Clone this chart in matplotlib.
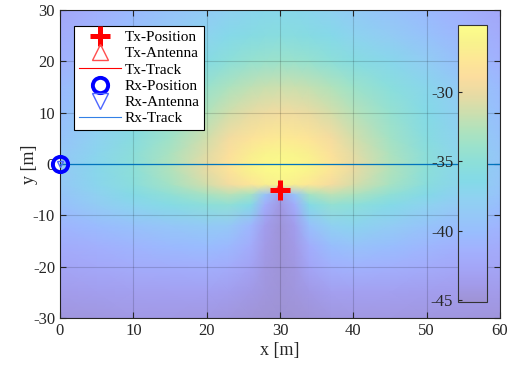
import numpy as np
import matplotlib.pyplot as plt
from matplotlib.colors import LinearSegmentedColormap
from matplotlib.lines import Line2D

# grid nodes of the power map [m]
x_nodes = [0, 5, 10, 15, 20, 23, 26, 28, 30, 32, 34, 37, 40, 45, 50, 55, 60]
y_nodes = [30, 25, 20, 15, 10, 5, 2, -1, -4, -6, -8, -12, -16, -20, -25, -30]

# received power [dB], one row per y node
power = [
    [-42.5, -41.5, -40.5, -39.5, -38.5, -37.8, -37.2, -36.9, -36.8, -36.9, -37.2, -37.8, -38.5, -39.5, -40.5, -41.5, -42.5],
    [-42.0, -41.0, -39.8, -38.6, -37.4, -36.6, -36.0, -35.7, -35.6, -35.7, -36.0, -36.6, -37.4, -38.4, -39.6, -40.9, -42.0],
    [-41.5, -40.3, -38.8, -37.3, -36.0, -35.0, -34.3, -34.0, -33.9, -34.0, -34.3, -35.0, -35.8, -36.8, -38.3, -40.0, -41.4],
    [-40.5, -39.0, -37.5, -35.8, -34.0, -32.9, -32.1, -31.7, -31.5, -31.6, -31.9, -32.7, -33.8, -35.4, -37.0, -38.8, -40.4],
    [-40.0, -38.3, -36.4, -34.5, -32.6, -31.3, -30.3, -29.8, -29.6, -29.7, -30.1, -31.1, -32.4, -34.3, -36.4, -38.2, -40.0],
    [-39.5, -37.6, -35.7, -33.6, -31.3, -29.5, -28.2, -27.6, -27.4, -27.5, -28.0, -29.3, -31.1, -33.5, -35.8, -37.8, -39.5],
    [-39.0, -37.2, -35.2, -33.0, -30.6, -28.6, -27.0, -26.3, -26.0, -26.2, -26.8, -28.4, -30.4, -32.9, -35.3, -37.4, -39.2],
    [-38.8, -36.9, -35.0, -32.7, -30.2, -28.1, -26.3, -25.6, -25.3, -25.5, -26.1, -27.8, -30.0, -32.6, -35.1, -37.2, -39.0],
    [-38.9, -37.1, -35.4, -33.4, -31.2, -29.5, -27.9, -26.9, -26.4, -26.9, -27.7, -29.3, -31.0, -33.2, -35.5, -37.3, -39.1],
    [-39.3, -37.7, -36.3, -34.8, -33.2, -32.4, -33.4, -39.5, -43.5, -39.5, -33.4, -32.2, -32.9, -34.8, -36.5, -38.0, -39.5],
    [-39.8, -38.4, -37.2, -36.2, -35.2, -34.8, -36.3, -41.8, -44.3, -41.8, -36.3, -34.6, -35.0, -36.4, -37.5, -38.8, -40.0],
    [-41.0, -40.3, -39.6, -39.0, -38.5, -38.8, -40.8, -43.6, -44.8, -43.6, -39.8, -37.8, -37.3, -38.3, -39.4, -40.3, -41.0],
    [-42.0, -41.5, -41.0, -40.5, -40.2, -40.6, -42.0, -44.0, -44.8, -44.0, -41.8, -40.0, -39.5, -40.0, -40.8, -41.5, -42.0],
    [-42.8, -42.4, -42.0, -41.8, -41.6, -41.9, -42.9, -44.3, -44.8, -44.3, -42.7, -41.5, -41.2, -41.5, -42.0, -42.5, -42.8],
    [-43.8, -43.5, -43.3, -43.2, -43.2, -43.5, -44.1, -44.6, -44.9, -44.6, -44.1, -43.4, -43.2, -43.3, -43.5, -43.7, -43.9],
    [-44.6, -44.4, -44.2, -44.2, -44.3, -44.6, -44.9, -45.0, -45.1, -45.0, -44.9, -44.5, -44.3, -44.3, -44.4, -44.6, -44.7],
]
c_lim = [-45.15, -25.15]

tx_pos = [30, -5]
rx_pos = [0, 0]
rx_track_x = [0, 60]
rx_track_y = [0, 0]

# parula (older MATLAB version), mixed 50/50 with white (map is half transparent)
parula = [
    (0.2422, 0.1504, 0.6603), (0.2706, 0.2147, 0.8364), (0.2813, 0.3006, 0.9414),
    (0.2699, 0.3892, 0.9906), (0.1963, 0.4847, 0.9892), (0.1687, 0.5703, 0.9359),
    (0.1248, 0.6459, 0.8883), (0.0297, 0.7082, 0.8163), (0.0964, 0.7461, 0.7091),
    (0.2161, 0.7702, 0.5959), (0.3909, 0.7705, 0.4733), (0.6174, 0.7447, 0.3597),
    (0.8203, 0.7170, 0.2829), (0.9728, 0.7307, 0.2394), (0.9855, 0.8096, 0.1781),
    (0.9476, 0.9022, 0.1040), (0.9769, 0.9839, 0.0805),
]
pale = [tuple(0.5 * c + 0.5 for c in rgb) for rgb in parula]
cmap = LinearSegmentedColormap.from_list('parula_pale', pale, N=256)

plt.rcParams['font.family'] = ['Liberation Serif', 'DejaVu Serif']
plt.rcParams['font.size'] = 12
plt.rcParams['axes.unicode_minus'] = False
dark = (0.15, 0.15, 0.15)

fig = plt.figure(figsize=(5.07, 3.70), dpi=100)
ax = fig.add_axes([0.1183, 0.1405, 0.8679, 0.8325])

X, Y = np.meshgrid(x_nodes, y_nodes)
mesh = ax.pcolormesh(X, Y, np.array(power), cmap=cmap, shading='gouraud',
                     vmin=c_lim[0], vmax=c_lim[1], zorder=0)

ax.plot(rx_track_x, rx_track_y, color=(0.0, 0.45, 0.74), lw=0.9, zorder=3)
ax.plot([tx_pos[0]], [tx_pos[1]], color='red', lw=0.9, zorder=3)
ax.plot(tx_pos[0], tx_pos[1] + 0.6, marker='^', ms=6, mfc='none', mec=(1, 0.3, 0.3),
        mew=1.2, ls='none', zorder=4)
ax.plot(tx_pos[0], tx_pos[1], marker='+', ms=15, mew=3.6, color='red', ls='none', zorder=5)
ax.plot(rx_pos[0], rx_pos[1], marker='v', ms=5, mfc='none', mec=(0.3, 0.4, 1),
        mew=1, ls='none', zorder=4, clip_on=False)
ax.plot(rx_pos[0], rx_pos[1], marker='o', ms=11, mfc='none', mec='blue', mew=2.8,
        ls='none', zorder=5, clip_on=False)

ax.set_xlim(0, 60)
ax.set_ylim(-30, 30)
ax.set_xticks(range(0, 61, 10))
ax.set_yticks(range(-30, 31, 10))
ax.grid(True, color='black', alpha=0.15, lw=0.8)
ax.set_axisbelow(False)
ax.tick_params(direction='in', top=True, right=True, length=4, width=0.8,
               colors=dark, labelcolor=dark, labelsize=12)
for s in ax.spines.values():
    s.set_color(dark)
    s.set_linewidth(0.8)
ax.set_xlabel('x [m]', fontsize=13, color=dark, labelpad=2)
ax.set_ylabel('y [m]', fontsize=13, color=dark, labelpad=-4)

handles = [
    Line2D([], [], color='red', marker='+', ms=15, mew=3.6, ls='none'),
    Line2D([], [], color=(1, 0.3, 0.3), marker='^', ms=11, mfc='none', mew=1, ls='none'),
    Line2D([], [], color='red', lw=0.8),
    Line2D([], [], color='blue', marker='o', ms=11, mfc='none', mew=2.8, ls='none'),
    Line2D([], [], color=(0.3, 0.4, 1), marker='v', ms=11, mfc='none', mew=1, ls='none'),
    Line2D([], [], color=(0.2, 0.5, 0.9), lw=0.8),
]
labels = ['Tx-Position', 'Tx-Antenna', 'Tx-Track', 'Rx-Position', 'Rx-Antenna', 'Rx-Track']
leg = ax.legend(handles, labels, loc='upper left', bbox_to_anchor=(0.032, 0.949),
                borderaxespad=0, fontsize=11, fancybox=False, framealpha=1,
                edgecolor='black', handlelength=2.8, handletextpad=0.2,
                labelspacing=0.17, borderpad=0.3)
leg.get_frame().set_linewidth(0.8)
leg.set_zorder(10)

cax = fig.add_axes([0.9034, 0.1838, 0.0572, 0.7486])
cb = fig.colorbar(mesh, cax=cax)
cb.set_ticks([-30, -35, -40, -45])
cax.yaxis.set_ticks_position('left')
cax.yaxis.set_label_position('left')
cax.tick_params(direction='in', length=3, width=0.8, labelsize=12,
                colors=dark, labelcolor=dark)
cb.outline.set_edgecolor((0.2, 0.2, 0.2))
cb.outline.set_linewidth(0.8)

fig.savefig('out.png', dpi=100)
